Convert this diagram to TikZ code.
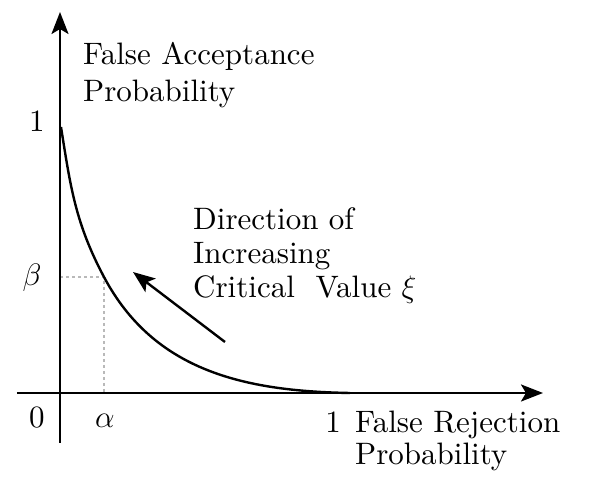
\RequirePackage{fix-cm}
\documentclass[tikz,border=0pt]{standalone}
\usepackage{amsmath}
\usepackage{fontspec}
\setmainfont{lmroman10-regular.otf}
\usepackage{tikz}
\usetikzlibrary{
	arrows.meta,
	positioning
}
\tikzset{
	>={Stealth[length=22pt, width=17pt, inset=5pt]},
	axis/.style={->, line width=2.6pt},
	curve/.style={line width=2.4pt},
	guide/.style={gray!55, dashed, line width=1.5pt},
	dirarrow/.style={->, line width=2.4pt},
	lbl/.style={inner sep=0pt, font=\fontsize{31}{34}\selectfont}
}

\begin{document}
\begin{tikzpicture}[x=1pt, y=1pt]
	\useasboundingbox (-60,-88) rectangle (532,393);
	% axes
	\coordinate (xstart) at (-43,0);
	\coordinate (xend) at (483,0);
	\coordinate (ystart) at (0,-50);
	\coordinate (yend) at (0,381);
	% operating point
	\coordinate (ab) at (44,116);
	\coordinate (a) at (44,0);
	\coordinate (b) at (0,116);
	\draw[guide] (b) -- (ab) -- (a);
	\draw[axis] (xstart) -- (xend);
	\draw[axis] (ystart) -- (yend);
	\draw[curve] (1,266) to[out=-81,in=118] (ab) to[out=-62,in=179] (290,0);
	% direction
	\coordinate (dirtail) at (165,51);
	\coordinate (dirtip) at (73,121);
	\draw[dirarrow] (dirtail) -- (dirtip);
	% labels
	\node[lbl, anchor=base west, align=left] (ylabel) at (23,291) {False Acceptance\\[3pt]Probability};
	\node[lbl, anchor=base west, align=left] (dirlabel) at (133,95) {Direction of\\Increasing\\Critical\ \ Value $\xi$};
	\node[lbl, anchor=base west, align=left] (xlabel) at (295,-72) {False Rejection\\[-2pt]Probability};
	\node[lbl, anchor=base] (yone) at (-23,261) {1};
	\node[lbl] (beta) at (-28,115) {$\beta$};
	\node[lbl, anchor=base] (zero) at (-23,-35) {0};
	\node[lbl, anchor=base] (alpha) at (45,-35) {$\alpha$};
	\node[lbl, anchor=base] (xone) at (273,-40) {1};
\end{tikzpicture}
\end{document}
